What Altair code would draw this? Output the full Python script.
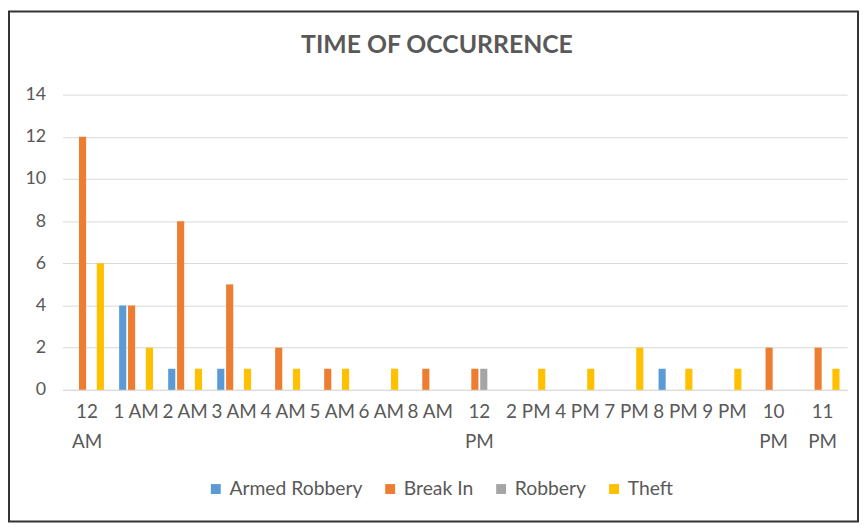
import altair as alt
import pandas as pd

hours = ["12 AM", "1 AM", "2 AM", "3 AM", "4 AM", "5 AM", "6 AM", "8 AM",
         "12 PM", "2 PM", "4 PM", "7 PM", "8 PM", "9 PM", "10 PM", "11 PM"]
series = ["Armed Robbery", "Break In", "Robbery", "Theft"]
armed_robbery = [0, 4, 1, 1, 0, 0, 0, 0, 0, 0, 0, 0, 1, 0, 0, 0]
break_in =      [12, 4, 8, 5, 2, 1, 0, 1, 1, 0, 0, 0, 0, 0, 2, 2]
robbery =       [0, 0, 0, 0, 0, 0, 0, 0, 1, 0, 0, 0, 0, 0, 0, 0]
theft =         [6, 2, 1, 1, 1, 1, 1, 0, 0, 1, 1, 2, 1, 1, 0, 1]
colors = ["#5B9BD5", "#ED7D31", "#A5A5A5", "#FFC000"]

rows = []
for name, vals in zip(series, [armed_robbery, break_in, robbery, theft]):
    for h, v in zip(hours, vals):
        rows.append({"hour": h, "type": name, "count": v})
df = pd.DataFrame(rows)

FONT = "Lato"
TXT = "#595959"
LEFT, TOP, W, H = 55, 85, 792, 298

bars = alt.Chart(df).mark_bar().encode(
    x=alt.X("hour:N", sort=hours, title=None,
            scale=alt.Scale(paddingInner=0.31, paddingOuter=0.155),
            axis=alt.Axis(labelAngle=0, labelFont=FONT, labelFontSize=19, labelColor=TXT,
                          labelPadding=13, labelLineHeight=30, ticks=False,
                          domainColor="#D9D9D9", labelLimit=0,
                          labelExpr="length(datum.label) > 4 ? split(datum.label, ' ') : datum.label")),
    xOffset=alt.XOffset("type:N", sort=series,
                        scale=alt.Scale(paddingInner=0.2, paddingOuter=0)),
    y=alt.Y("count:Q", title=None,
            scale=alt.Scale(domain=[0, 14]),
            axis=alt.Axis(values=list(range(0, 15, 2)), labelFont=FONT, labelFontSize=18,
                          labelColor=TXT, labelPadding=17, ticks=False, domain=False,
                          gridColor="#D9D9D9", gridWidth=1)),
    color=alt.Color("type:N", sort=series, title=None,
                    scale=alt.Scale(domain=series, range=colors),
                    legend=alt.Legend(orient="none", legendX=145, legendY=388,
                                      direction="horizontal", symbolType="square",
                                      symbolSize=100, symbolStrokeWidth=0,
                                      labelFont=FONT, labelFontSize=19.5, labelColor=TXT,
                                      columnPadding=18, symbolOffset=0, labelOffset=4)),
)

border = alt.Chart(pd.DataFrame({"a": [0]})).mark_rect(
    fill=None, stroke="#333333", strokeWidth=2
).encode(
    x=alt.value(-LEFT + 1), x2=alt.value(W + 11),
    y=alt.value(-TOP + 1), y2=alt.value(H + 133),
)

chart = alt.layer(border, bars).properties(
    width=W, height=H,
    padding={"left": LEFT, "top": TOP, "right": 12, "bottom": 134},
    autosize=alt.AutoSizeParams(type="none"),
    title=alt.Title("TIME OF OCCURRENCE", font=FONT, fontSize=25, fontWeight="bold",
                    color=TXT, offset=0, dy=48, dx=-18, anchor="middle"),
).configure_view(stroke=None)

chart.save("out.html", embed_options={"renderer": "svg", "actions": False})
